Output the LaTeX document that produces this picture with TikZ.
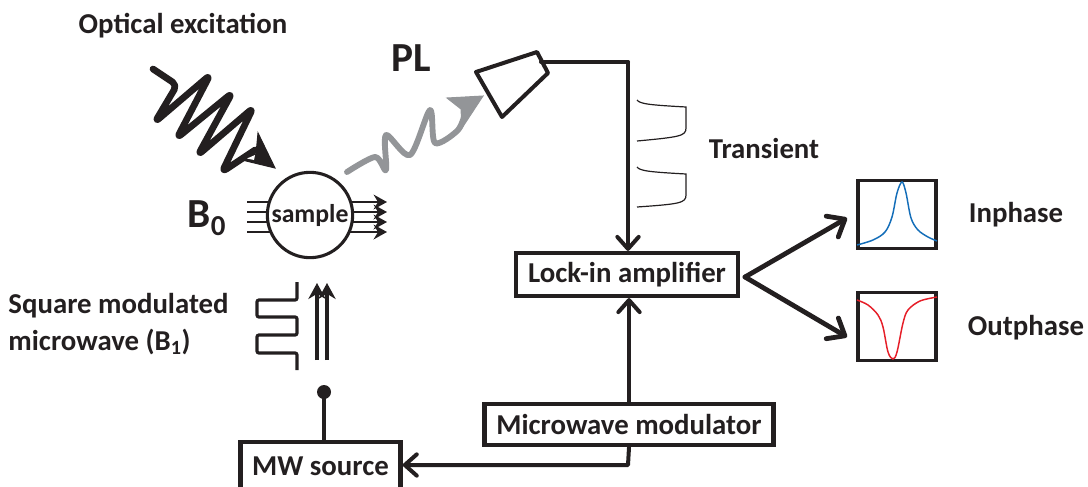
\documentclass[tikz,border=0pt]{standalone}
\usepackage{fontspec}
\setmainfont{Carlito}
\usetikzlibrary{arrows.meta}
\definecolor{inkblack}{RGB}{35,31,32}
\definecolor{plgray}{RGB}{147,149,152}
\definecolor{peakblue}{RGB}{20,110,185}
\definecolor{peakred}{RGB}{230,30,40}
\tikzset{every picture/.style={line width=0.75pt},
  boxnode/.style={draw=inkblack,line width=3.4pt,fill=white,inner sep=0pt,font=\fontsize{21.6}{26}\selectfont\bfseries,text=inkblack},
  plotbox/.style={draw=inkblack,line width=2.4pt,fill=white,inner sep=0pt,minimum width=58.5pt,minimum height=51.5pt},
  label/.style={inner sep=0.75pt,font=\fontsize{21.6}{27.7}\selectfont\bfseries,text=inkblack,align=left},
  biglabel/.style={inner sep=0.75pt,font=\fontsize{31}{34}\selectfont\bfseries,text=inkblack},
  linkline/.style={draw=inkblack,line width=3pt,line cap=round,line join=round},
  barbline/.style={linkline,-{Straight Barb[length=9pt,width=16pt,line width=3pt,round]}},
  forkline/.style={linkline,line width=3.6pt,-{Straight Barb[length=11pt,width=18pt,line width=3.6pt,round]}},
  fieldline/.style={draw=inkblack,line width=1.8pt},
  transient/.style={draw=inkblack,line width=0.9pt}}
\begin{document}
\begin{tikzpicture}[x=0.75pt,y=0.75pt,yscale=-1,xscale=1]
\useasboundingbox (0,0) rectangle (1088,486);

% Text Node
\node (excitation) [label] at (183,26) {Optical excitation};
\node (pl) [biglabel] at (411,58) {PL};
\node (transientlabel) [label] at (764,148) {Transient};
\node (bzero) [biglabel] at (207,218) {B$_{\mathbf{0}}$};
\node (squarelabel) [label,anchor=west] at (7,324) {Square modulated\\microwave (B$_{\mathbf{1}}$)};
\node (inphase) [label] at (1016,215) {Inphase};
\node (outphase) [label] at (1026,328) {Outphase};

%Shape: Wave black
\draw [inkblack,line width=5pt,line join=round,line cap=round,rounded corners=4pt] (153,69) -- (177,85) -- (155,122) -- (210,75) -- (177,138) -- (232,93) -- (198,155) -- (253,108) -- (222,172) -- (255,150);
\draw [inkblack,fill=inkblack,line join=miter] (258,133) -- (275,168) -- (242,160) -- (256,154) -- cycle;
\fill [white] (247,158.5) -- (255,155) -- (254,160) -- cycle;

%Shape: Wave gray
\draw [plgray,line width=4.4pt,line cap=round,line join=round] plot [smooth,tension=0.5] coordinates {(347,172) (375,157) (386,170) (386,135) (410,155) (430,110) (435,143) (458,130) (466,110)};
\draw [plgray,fill=plgray,line join=miter] (447,98) -- (483,96) -- (462,128) -- (461,109) -- cycle;

%Shape: Field lines
\foreach \y in {202,212,222,232} {
  \draw [fieldline] (247,\y) -- (272,\y);
  \draw [fieldline,-{Stealth[length=10pt,width=11pt]}] (350,\y) -- (387,\y);
}

%Shape: Circle
\node (sample) [circle,draw=inkblack,line width=2.3pt,fill=white,minimum size=64pt,inner sep=0pt,font=\fontsize{19.3}{22}\selectfont\bfseries,text=inkblack] at (310,215) {sample};

%Shape: Detector
\node (detector) [inner sep=0pt,minimum size=1pt] at (541,62) {};
\draw [inkblack,line width=3pt,line join=round,fill=white] (476,72) -- (537,52) -- (548,73) -- (502,117) -- cycle;

%Shape: Boxes
\node (lockin) [boxnode,minimum width=166.5pt,minimum height=32pt] at (627,274.5) {Lock-in amplifier};
\node (modulator) [boxnode,minimum width=217pt,minimum height=31pt] at (629,424.5) {Microwave modulator};
\node (source) [boxnode,minimum width=120pt,minimum height=39pt] at (320.5,468) {\raisebox{2.2pt}{MW source}};
\node (inbox) [plotbox] at (897,214.5) {};
\node (outbox) [plotbox] at (897,326.5) {};
\node (fork) [inner sep=0pt,minimum size=0pt] at (745,277) {};
\coordinate (infront) at (847,218);
\coordinate (outfront) at (847,337);

%Connectors
\draw [linkline] (detector.center) -- (628,62);
\draw [barbline] (628,62) -- (lockin.north -| 628,0);
\draw [barbline] (modulator.north) -- (lockin.south -| modulator.north);
\draw [barbline] (modulator.south) -- (628,465) -- (source.east |- 0,465);
\draw [forkline] (fork.center) -- (infront);
\draw [forkline] (fork.center) -- (outfront);

%Shape: Dot
\node (dot) [circle,fill=inkblack,minimum size=10.5pt,inner sep=0pt] at (324,392) {};
\draw [linkline] (dot.center) -- (dot |- source.north);

%Shape: Square wave
\draw [inkblack,line width=2.4pt,rounded corners=1.5pt] (297,282) -- (297,300) -- (257,300) -- (257,317) -- (297,317) -- (297,335) -- (257,335) -- (257,353) -- (297,353) -- (297,370);

%Shape: Double arrow
\draw [fieldline,line width=2.6pt,-{Stealth[length=12pt,width=13pt]}] (317,360) -- (317,283);
\draw [fieldline,line width=2.6pt,-{Stealth[length=12pt,width=13pt]}] (327,360) -- (327,283);

%Shape: Transient
\draw [transient] (637,100) .. controls (640,104) and (650,105) .. (686,107) -- (686,128) .. controls (686,136) and (680,137) .. (637,141);
\draw [transient] (637,167) .. controls (640,171) and (650,172) .. (686,174) -- (686,195) .. controls (686,203) and (680,204) .. (637,207);

%Shape: Peaks
\draw [peakblue,line width=1.1pt] plot [smooth,tension=0.55] coordinates {(857,245) (873,240) (885,232) (892,217) (897,193) (902,182) (906,193) (911,218) (918,230) (928,237) (937,241)};
\draw [peakred,line width=1.1pt] plot [smooth,tension=0.55] coordinates {(857,300) (868,305) (878,315) (883,327) (888,352) (893,359) (897,352) (903,323) (908,310) (920,301) (937,297)};

\end{tikzpicture}
\end{document}
